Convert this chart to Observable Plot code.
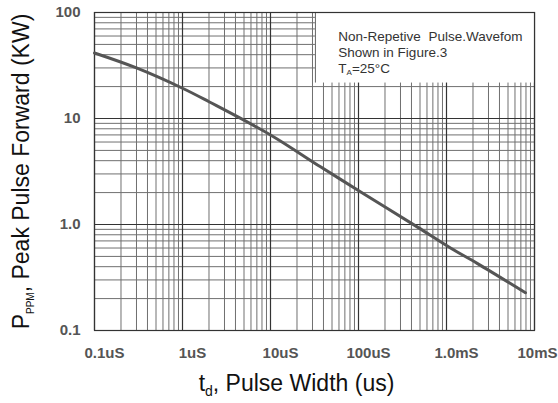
<!DOCTYPE html>
<html>
<head>
<meta charset="utf-8">
<script src="https://cdn.jsdelivr.net/npm/d3@7"></script>
<script src="https://cdn.jsdelivr.net/npm/@observablehq/plot@0.6"></script>
<style>
  html, body { margin: 0; padding: 0; background: #fff; }
  #chart { width: 558px; height: 403px; }
</style>
</head>
<body>
<div id="chart"></div>
<script>
// ---- data ----
const pulseWidthUs = [0.1, 0.3, 1, 2, 10, 37, 105, 464, 1110, 2230, 7900];
const peakPowerKW  = [41.5, 30, 19.3, 14.4, 7.0, 3.5, 2.04, 0.95, 0.6, 0.43, 0.227];

const xTickValues = [0.1, 1, 10, 100, 1000, 10000];
const xTickLabels = ["0.1uS", "1uS", "10uS", "100uS", "1.0mS", "10mS"];
const yTickValues = [0.1, 1, 10, 100];
const yTickLabels = ["0.1", "1.0", "10", "100"];

const noteLines = ["Non-Repetive  Pulse.Wavefom", "Shown in Figure.3", "TA=25°C"];
const noteAnchorX = 59;
const noteAnchorY = [58.8, 41.5, 29.6];
const noteBox = {x1: 32.4, x2: 10000, y1: 21.6, y2: 100};

const xTitle = "td, Pulse Width (us)";
const yTitle = "PPPM, Peak Pulse Forward (KW)";

// ---- build ----
const curve = pulseWidthUs.map((x, i) => ({x, y: peakPowerKW[i]}));
const xDomain = [0.1, 10000];
const yDomain = [0.1, 100];
const xGrid = d3.scaleLog().domain(xDomain).ticks();
const yGrid = d3.scaleLog().domain(yDomain).ticks();
const notes = noteLines.map((t, i) => ({t, y: noteAnchorY[i]}));
const xTicks = xTickValues.map((v, i) => ({v, label: xTickLabels[i]}));
const yTicks = yTickValues.map((v, i) => ({v, label: yTickLabels[i]}));

const FONT = "'Liberation Sans', Arial, Helvetica, sans-serif";
const tickStyle = {fontSize: 15, fontWeight: "bold", fill: "#555", letterSpacing: "1px"};

const chart = Plot.plot({
  width: 558,
  height: 403,
  marginLeft: 94,
  marginRight: 24,
  marginTop: 12,
  marginBottom: 73,
  style: {fontFamily: FONT, background: "#fff", overflow: "visible"},
  x: {type: "log", domain: xDomain, axis: null},
  y: {type: "log", domain: yDomain, axis: null},
  marks: [
    Plot.ruleX(xGrid, {stroke: "#707070", strokeWidth: 1}),
    Plot.ruleY(yGrid, {stroke: "#707070", strokeWidth: 1}),
    Plot.ruleX(xTickValues, {stroke: "#333", strokeWidth: 1.2}),
    Plot.ruleY(yTickValues, {stroke: "#333", strokeWidth: 1.2}),
    Plot.rect([noteBox], {x1: "x1", x2: "x2", y1: "y1", y2: "y2", fill: "#fff"}),
    Plot.ruleX([noteBox], {x: "x1", y1: "y1", y2: "y2", stroke: "#666", strokeWidth: 1}),
    Plot.frame({stroke: "#333", strokeWidth: 1.2}),
    Plot.line(curve, {x: "x", y: "y", stroke: "#555", strokeWidth: 3, curve: "catmull-rom"}),
    Plot.text(notes, {x: () => noteAnchorX, y: "y", text: "t", textAnchor: "start",
      fontSize: 13.5, fill: "#333"}),
    Plot.text(yTicks, {y: "v", text: "label", frameAnchor: "left",
      textAnchor: "end", lineAnchor: "middle", dx: -14, ...tickStyle}),
    Plot.text(xTicks.slice(0, 5), {x: "v", text: "label", frameAnchor: "bottom",
      textAnchor: "middle", lineAnchor: "middle", dy: 23, dx: 10, ...tickStyle}),
    Plot.text(xTicks.slice(5), {x: "v", text: "label", frameAnchor: "bottom",
      textAnchor: "end", lineAnchor: "middle", dy: 23, dx: 23, ...tickStyle}),
    Plot.text([xTitle], {text: d => d, frameAnchor: "bottom", textAnchor: "middle",
      lineAnchor: "middle", dy: 53, dx: -18, fontSize: 23, fill: "#111"}),
    Plot.text([yTitle], {text: d => d, frameAnchor: "left", textAnchor: "middle",
      lineAnchor: "middle", dx: -73, rotate: -90, fontSize: 23, fill: "#111"})
  ]
});

// subscripts
function subscript(full, head, sub, tail, subSize, shift) {
  chart.querySelectorAll("text").forEach(t => {
    if (t.textContent === full) {
      while (t.firstChild) t.removeChild(t.firstChild);
      const ns = "http://www.w3.org/2000/svg";
      t.appendChild(document.createTextNode(head));
      const s = document.createElementNS(ns, "tspan");
      s.setAttribute("font-size", subSize);
      s.setAttribute("dy", shift);
      s.textContent = sub;
      t.appendChild(s);
      const r = document.createElementNS(ns, "tspan");
      r.setAttribute("dy", -shift);
      r.textContent = tail;
      t.appendChild(r);
    }
  });
}
subscript(yTitle, "P", "PPM", ", Peak Pulse Forward (KW)", 10, 5);
subscript(xTitle, "t", "d", ", Pulse Width (us)", 14, 5);
subscript("TA=25°C", "T", "A", "=25°C", 8, 2);

document.getElementById("chart").appendChild(chart);
</script>
</body>
</html>
